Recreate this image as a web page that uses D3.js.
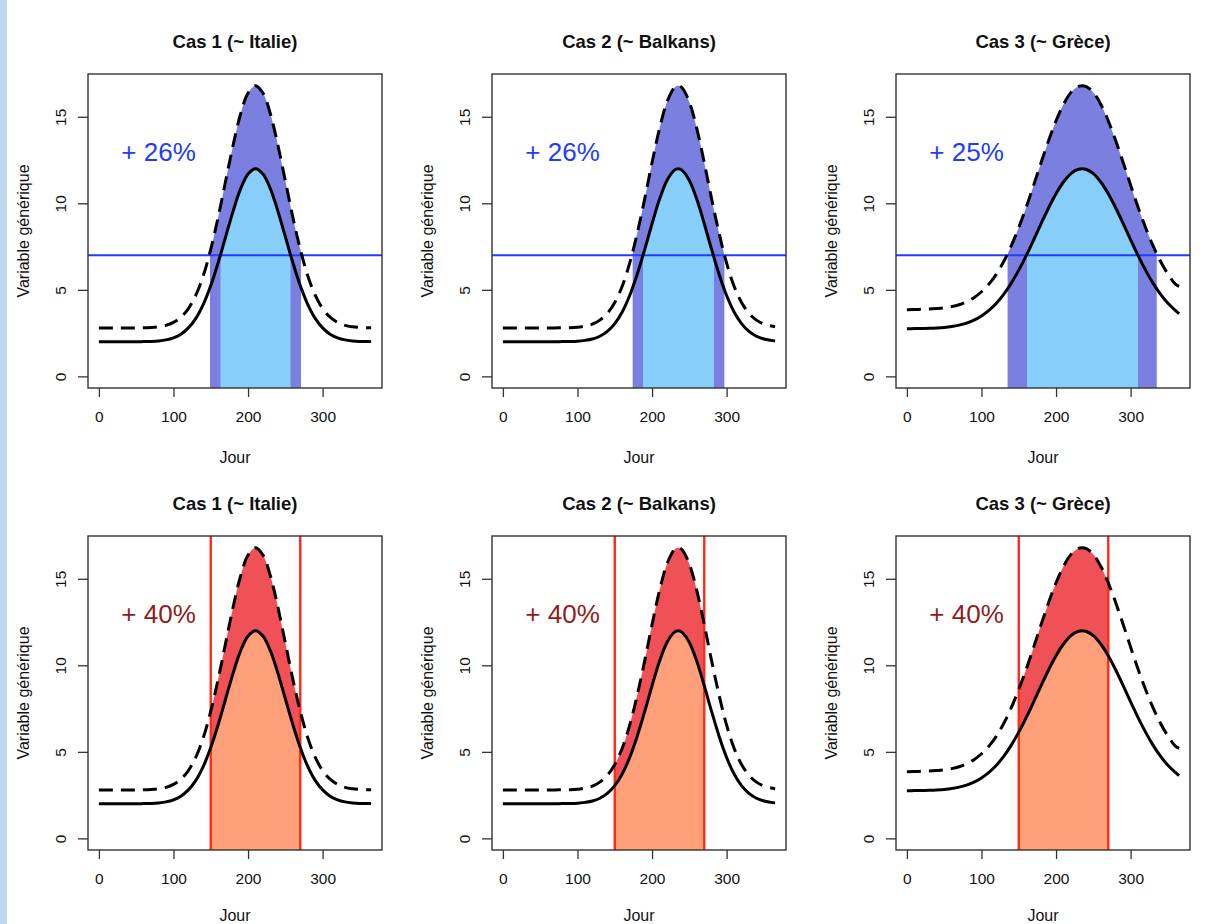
<!DOCTYPE html>
<html>
<head>
<meta charset="utf-8">
<script src="https://cdn.jsdelivr.net/npm/d3@7"></script>
<style>
  html, body { margin: 0; padding: 0; background: #ffffff; }
  svg { display: block; }
  text { font-family: "Liberation Sans", Arial, Helvetica, sans-serif; }
</style>
</head>
<body>
<script>
// ---------------- data ----------------
const caseTitles = ["Cas 1 (~ Italie)", "Cas 2 (~ Balkans)", "Cas 3 (~ Grèce)"];
const topLabels = ["+ 26%", "+ 26%", "+ 25%"];
const bottomLabels = ["+ 40%", "+ 40%", "+ 40%"];
const xLabel = "Jour";
const yLabel = "Variable générique";
const xTicks = [0, 100, 200, 300];
const yTicks = [0, 5, 10, 15];
const threshold = 7;
const labelAt = [80, 13];             // day, value of the percentage label
const windowDays = [150, 270];        // bottom row window
const darkBands = [[149, 271], [174, 297], [135, 335]];   // dashed above threshold
const lightBands = [[163, 257], [188, 283], [161, 310]];  // solid above threshold

const days = [0,10,20,30,40,50,60,70,80,90,100,110,120,130,140,150,160,170,180,190,200,210,220,230,235,240,250,260,270,280,290,300,310,320,330,340,350,360,365];

const italieSolid = [2.00,2.00,2.00,2.00,2.00,2.00,2.01,2.02,2.05,2.11,2.23,2.44,2.80,3.35,4.16,5.25,6.58,8.07,9.55,10.83,11.69,12.00,11.69,10.83,10.23,9.55,8.07,6.58,5.25,4.16,3.35,2.80,2.44,2.23,2.11,2.05,2.02,2.01,2.01];
const italieDashed = [2.80,2.80,2.80,2.80,2.80,2.80,2.81,2.83,2.87,2.95,3.12,3.42,3.92,4.69,5.82,7.35,9.21,11.30,13.37,15.16,16.37,16.80,16.37,15.16,14.32,13.37,11.30,9.21,7.35,5.82,4.69,3.92,3.42,3.12,2.95,2.87,2.83,2.81,2.81];

const balkansSolid = [2.00,2.00,2.00,2.00,2.00,2.00,2.00,2.00,2.01,2.01,2.03,2.08,2.16,2.32,2.60,3.05,3.72,4.67,5.89,7.31,8.82,10.23,11.32,11.92,12.00,11.92,11.32,10.23,8.82,7.31,5.89,4.67,3.72,3.05,2.60,2.32,2.16,2.08,2.05];
const balkansDashed = [2.80,2.80,2.80,2.80,2.80,2.80,2.80,2.80,2.81,2.81,2.84,2.91,3.02,3.25,3.64,4.27,5.21,6.54,8.25,10.23,12.35,14.32,15.85,16.69,16.80,16.69,15.85,14.32,12.35,10.23,8.25,6.54,5.21,4.27,3.64,3.25,3.02,2.91,2.87];

const greceSolid = [2.75,2.76,2.77,2.78,2.80,2.83,2.88,2.96,3.08,3.25,3.49,3.81,4.22,4.75,5.39,6.14,6.98,7.89,8.83,9.73,10.55,11.23,11.72,11.97,12.00,11.97,11.72,11.23,10.55,9.73,8.83,7.89,6.98,6.14,5.39,4.75,4.22,3.81,3.63];
const greceDashed = [3.85,3.86,3.88,3.89,3.92,3.96,4.03,4.14,4.31,4.55,4.89,5.33,5.91,6.65,7.55,8.60,9.77,11.05,12.36,13.62,14.77,15.72,16.41,16.76,16.80,16.76,16.41,15.72,14.77,13.62,12.36,11.05,9.77,8.60,7.55,6.65,5.91,5.33,5.20];

const solidSeries = [italieSolid, balkansSolid, greceSolid];
const dashedSeries = [italieDashed, balkansDashed, greceDashed];

// ---------------- layout ----------------
const W = 1206, H = 924;
const panelLeft = [88, 492, 896];
const panelTop = [74, 536];
const pw = 294, ph = 314;

const C = {
  strip: "#c0d8ee",
  box: "#333333",
  dark: "#7b7fe0",
  light: "#87cefa",
  blue: "#1f3cff",
  red: "#ef5156",
  salmon: "#ffa07a",
  redLine: "#ff2a17",
  darkRed: "#921c1c"
};

const svg = d3.select("body").append("svg").attr("width", W).attr("height", H);
svg.append("rect").attr("width", W).attr("height", H).attr("fill", "#fff");
svg.append("rect").attr("x", 0).attr("y", 0).attr("width", 7).attr("height", H).attr("fill", C.strip);

const defs = svg.append("defs");

// R-style 4% padding
const xExt = [d3.min(days), d3.max(days)];
const xPad = (xExt[1] - xExt[0]) * 0.04;
const yExt = [0, d3.max(dashedSeries.flat())];
const yPad = (yExt[1] - yExt[0]) * 0.04;

let clipId = 0;

function drawPanel(row, col) {
  const left = panelLeft[col], top = panelTop[row];
  const x = d3.scaleLinear().domain([xExt[0] - xPad, xExt[1] + xPad]).range([left, left + pw]);
  const y = d3.scaleLinear().domain([yExt[0] - yPad, yExt[1] + yPad]).range([top + ph, top]);
  const solid = solidSeries[col], dashed = dashedSeries[col];
  const solidPts = days.map((d, i) => [d, solid[i]]);
  const dashedPts = days.map((d, i) => [d, dashed[i]]);
  const g = svg.append("g");

  const curve = d3.curveCatmullRom.alpha(0.5);
  const line = d3.line().x(d => x(d[0])).y(d => y(d[1])).curve(curve);
  const area = d3.area().x(d => x(d[0])).y0(top + ph).y1(d => y(d[1])).curve(curve);

  function band(b) {
    const id = "clip" + (clipId++);
    defs.append("clipPath").attr("id", id).append("rect")
      .attr("x", x(b[0])).attr("y", top).attr("width", x(b[1]) - x(b[0])).attr("height", ph);
    return "url(#" + id + ")";
  }

  const pid = "plot" + (clipId++);
  defs.append("clipPath").attr("id", pid).append("rect")
    .attr("x", left).attr("y", top).attr("width", pw).attr("height", ph);
  const plot = g.append("g").attr("clip-path", "url(#" + pid + ")");

  if (row === 0) {
    plot.append("path").datum(dashedPts).attr("d", area).attr("fill", C.dark).attr("clip-path", band(darkBands[col]));
    plot.append("path").datum(solidPts).attr("d", area).attr("fill", C.light).attr("clip-path", band(lightBands[col]));
    plot.append("line").attr("x1", left).attr("x2", left + pw)
      .attr("y1", y(threshold)).attr("y2", y(threshold))
      .attr("stroke", C.blue).attr("stroke-width", 1.8);
  } else {
    plot.append("path").datum(dashedPts).attr("d", area).attr("fill", C.red).attr("clip-path", band(windowDays));
    plot.append("path").datum(solidPts).attr("d", area).attr("fill", C.salmon).attr("clip-path", band(windowDays));
    windowDays.forEach(d => {
      plot.append("line").attr("x1", x(d)).attr("x2", x(d)).attr("y1", top).attr("y2", top + ph)
        .attr("stroke", C.redLine).attr("stroke-width", 2.4);
    });
  }

  plot.append("path").datum(dashedPts).attr("d", line).attr("fill", "none")
    .attr("stroke", "#000").attr("stroke-width", 3).attr("stroke-dasharray", "14,8");
  plot.append("path").datum(solidPts).attr("d", line).attr("fill", "none")
    .attr("stroke", "#000").attr("stroke-width", 3);

  g.append("text").attr("x", x(labelAt[0])).attr("y", y(labelAt[1])).attr("dy", "0.36em")
    .attr("text-anchor", "middle").attr("font-size", 26)
    .attr("fill", row === 0 ? C.blue : C.darkRed)
    .text(row === 0 ? topLabels[col] : bottomLabels[col]);

  g.append("rect").attr("x", left).attr("y", top).attr("width", pw).attr("height", ph)
    .attr("fill", "none").attr("stroke", C.box).attr("stroke-width", 1.4);

  const xa = g.append("g").attr("transform", `translate(0,${top + ph})`)
    .call(d3.axisBottom(x).tickValues(xTicks).tickSize(9).tickPadding(14).tickFormat(d3.format("d")));
  xa.select(".domain").remove();
  xa.selectAll(".tick line").attr("stroke", C.box).attr("stroke-width", 1.3);
  xa.selectAll(".tick text").attr("font-size", 15.5).attr("fill", "#111").attr("font-family", null);

  const ya = g.append("g").attr("transform", `translate(${left},0)`)
    .call(d3.axisLeft(y).tickValues(yTicks).tickSize(10).tickFormat(d3.format("d")));
  ya.select(".domain").remove();
  ya.selectAll(".tick line").attr("stroke", C.box).attr("stroke-width", 1.3);
  ya.selectAll(".tick text").attr("font-size", 15.5).attr("fill", "#111").attr("font-family", null)
    .attr("x", null).attr("dy", null)
    .attr("text-anchor", "middle")
    .attr("transform", "translate(-28,0) rotate(-90)")
    .attr("y", 0).attr("dy", "0.36em");

  g.append("text").attr("x", left + pw / 2).attr("y", top - 26).attr("text-anchor", "middle")
    .attr("font-size", 18.5).attr("font-weight", "bold").attr("fill", "#111").text(caseTitles[col]);
  const jourY = row === 0 ? top + ph + 69 : Math.min(top + ph + 69, H - 9);
  g.append("text").attr("x", left + pw / 2).attr("y", jourY).attr("dy", "0.36em")
    .attr("text-anchor", "middle").attr("font-size", 16).attr("fill", "#111").text(xLabel);
  g.append("text").attr("transform", `translate(${left - 65},${top + ph / 2}) rotate(-90)`)
    .attr("dy", "0.36em").attr("text-anchor", "middle").attr("font-size", 16).attr("fill", "#111").text(yLabel);
}

[0, 1].forEach(r => [0, 1, 2].forEach(c => drawPanel(r, c)));
</script>
</body>
</html>
